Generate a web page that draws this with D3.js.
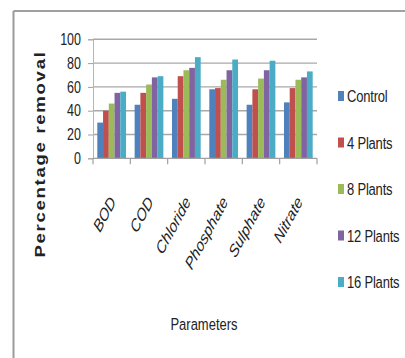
<!DOCTYPE html>
<html>
<head>
<meta charset="utf-8">
<script src="https://cdn.jsdelivr.net/npm/d3@7/dist/d3.min.js"></script>
<style>
  html, body { margin: 0; padding: 0; background: #fff; }
  svg { display: block; }
  text { font-family: "Liberation Sans", Arial, sans-serif; fill: #222; }
</style>
</head>
<body>
<svg id="chart" width="405" height="358"></svg>
<script>
// Percentage removal of each parameter by treatment
const categories = ["BOD", "COD", "Chloride", "Phosphate", "Sulphate", "Nitrate"];
const seriesNames = ["Control", "4 Plants", "8 Plants", "12 Plants", "16 Plants"];
const control   = [30, 45, 50, 58, 45, 47];
const plants4   = [40, 55, 69, 59, 58, 59];
const plants8   = [46, 62, 74, 66, 67, 66];
const plants12  = [55, 68, 76, 74, 74, 68];
const plants16  = [56, 69, 85, 83, 82, 73];
const yTicks = [0, 20, 40, 60, 80, 100];
const colors = ["#4F81BD", "#C0504D", "#9BBB59", "#8064A2", "#4BACC6"];

const seriesValues = [control, plants4, plants8, plants12, plants16];
const stretch = 1.3; // vertical text stretch

const svg = d3.select("#chart");

// outer frame (top and left edges)
svg.append("line").attr("x1", 13.5).attr("x2", 405).attr("y1", 11).attr("y2", 11)
  .attr("stroke", "#a0a0a0").attr("stroke-width", 2);
svg.append("line").attr("x1", 13.5).attr("x2", 13.5).attr("y1", 11).attr("y2", 358)
  .attr("stroke", "#9a9a9a").attr("stroke-width", 2);

const plot = { left: 93, right: 317, top: 39.3, bottom: 158.3 };

const x = d3.scaleBand().domain(categories).range([plot.left, plot.right]).paddingInner(0).paddingOuter(0);
const xs = d3.scaleBand().domain(seriesNames).range([0, x.bandwidth()]).paddingInner(0).paddingOuter(0.75);
const y = d3.scaleLinear().domain([0, 100]).range([plot.bottom, plot.top]);

// gridlines
svg.append("g").selectAll("line").data(yTicks.filter(d => d > 0)).join("line")
  .attr("x1", plot.left).attr("x2", plot.right)
  .attr("y1", d => y(d)).attr("y2", d => y(d))
  .attr("stroke", "#a8a8a8").attr("stroke-width", 1.4);

// y axis
const yAxis = svg.append("g").attr("transform", `translate(${plot.left},0)`)
  .call(d3.axisLeft(y).tickValues(yTicks).tickSize(5).tickPadding(7));
yAxis.select(".domain").attr("stroke", "#b5b5b5");
yAxis.selectAll(".tick line").attr("stroke", "#a0a0a0");
yAxis.selectAll(".tick text")
  .attr("font-size", 12.5).attr("fill", "#333")
  .attr("font-family", "'Liberation Sans', Arial, sans-serif")
  .attr("transform", `scale(1,${stretch})`);

// bars
const groups = svg.append("g").selectAll("g").data(seriesNames).join("g")
  .attr("fill", (d, i) => colors[i]);
groups.selectAll("rect")
  .data((s, i) => categories.map((c, j) => ({ c, s, v: seriesValues[i][j] })))
  .join("rect")
  .attr("x", d => x(d.c) + xs(d.s))
  .attr("width", xs.bandwidth())
  .attr("y", d => y(d.v))
  .attr("height", d => y(0) - y(d.v));

// x axis
const xAxis = svg.append("g").attr("transform", `translate(0,${plot.bottom})`);
xAxis.append("line").attr("x1", plot.left).attr("x2", plot.right)
  .attr("stroke", "#a0a0a0").attr("stroke-width", 1.2);
const bounds = categories.map(c => x(c)).concat([plot.right]);
xAxis.selectAll("line.tk").data(bounds).join("line").attr("class", "tk")
  .attr("x1", d => d).attr("x2", d => d).attr("y1", 0).attr("y2", 6)
  .attr("stroke", "#a0a0a0").attr("stroke-width", 1.2);

// category labels, slanted
svg.append("g").selectAll("text").data(categories).join("text")
  .attr("transform", d => `translate(${x(d) + x.bandwidth() / 2 + 5},${202}) scale(1,${stretch}) rotate(-55)`)
  .attr("text-anchor", "end")
  .attr("font-style", "italic")
  .attr("font-size", 13.5)
  .attr("fill", "#333")
  .text(d => d);

// axis titles
svg.append("text")
  .attr("transform", `translate(45,154) scale(1,${stretch}) rotate(-90)`)
  .attr("text-anchor", "middle")
  .attr("font-family", "'DejaVu Sans', Verdana, sans-serif")
  .attr("font-weight", "bold")
  .attr("font-size", 14.3)
  .attr("letter-spacing", 1.3)
  .attr("fill", "#222")
  .text("Percentage removal");

svg.append("text")
  .attr("transform", `translate(204,330) scale(1,${stretch})`)
  .attr("text-anchor", "middle")
  .attr("font-size", 13)
  .text("Parameters");

// legend
const legend = svg.append("g").selectAll("g").data(seriesNames).join("g")
  .attr("transform", (d, i) => `translate(338,${96 + i * 46.5})`);
legend.append("rect").attr("x", 0).attr("y", -5).attr("width", 6).attr("height", 10)
  .attr("fill", (d, i) => colors[i]);
legend.append("text")
  .attr("transform", `translate(9,0) scale(1,${stretch})`)
  .attr("dy", "0.36em")
  .attr("font-size", 13)
  .attr("letter-spacing", -0.2)
  .text(d => d);
</script>
</body>
</html>
